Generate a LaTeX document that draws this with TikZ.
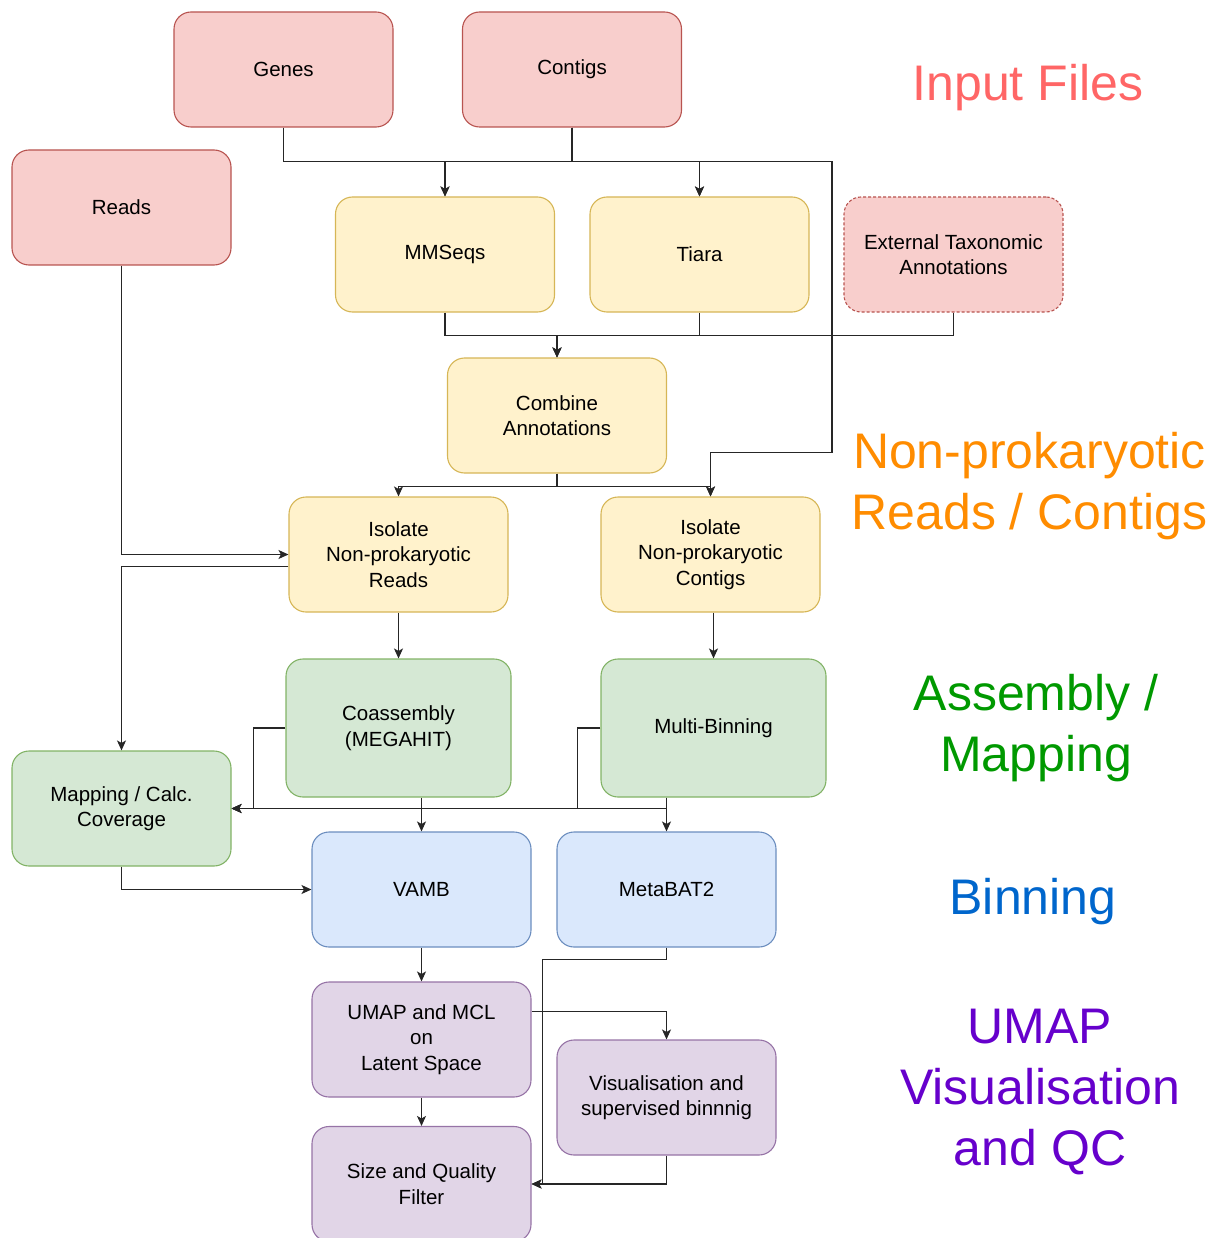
\documentclass[tikz,border=0pt]{standalone}
\usepackage{fontspec}
\setmainfont{Liberation Sans}
\usetikzlibrary{arrows.meta,calc}

\definecolor{redfill}{HTML}{F8CECC}\definecolor{redline}{HTML}{B85450}
\definecolor{yelfill}{HTML}{FFF2CC}\definecolor{yelline}{HTML}{D6B656}
\definecolor{grnfill}{HTML}{D5E8D4}\definecolor{grnline}{HTML}{82B366}
\definecolor{blufill}{HTML}{DAE8FC}\definecolor{bluline}{HTML}{6C8EBF}
\definecolor{purfill}{HTML}{E1D5E7}\definecolor{purline}{HTML}{9673A6}
\definecolor{tinput}{HTML}{FF6666}
\definecolor{tnonpro}{HTML}{FF8C00}
\definecolor{tassem}{HTML}{009900}
\definecolor{tbinning}{HTML}{0066CC}
\definecolor{tumap}{HTML}{6600CC}

\tikzset{
  box/.style={draw, rounded corners=17pt, line width=1.1pt, align=center,
    minimum width=219pt, minimum height=115pt, inner sep=0pt,
    font=\fontsize{20.5}{25.5}\selectfont},
  redbox/.style={box, fill=redfill, draw=redline},
  yelbox/.style={box, fill=yelfill, draw=yelline},
  grnbox/.style={box, fill=grnfill, draw=grnline},
  blubox/.style={box, fill=blufill, draw=bluline},
  purbox/.style={box, fill=purfill, draw=purline},
  wire/.style={line width=1.1pt, draw=black!85},
  arr/.style={wire, -{Stealth[length=10pt,width=9pt,inset=2.5pt]}},
  stage/.style={align=center, font=\fontsize{50}{61}\selectfont, inner sep=0pt}
}

\begin{document}
\begin{tikzpicture}[x=1pt, y=-1pt]
\useasboundingbox (0,0) rectangle (1212,1238);

% input files
\node[redbox] (genes)   at (283.5,69.5)  {Genes};
\node[redbox] (contigs) at (572,69.5)    {Contigs};
\node[redbox] (reads)   at (121.5,207.5) {Reads};
\node[redbox, dashed, dash pattern=on 3pt off 2pt] (external) at (953.5,254.5) {External Taxonomic\\Annotations};

% annotation and isolation steps
\node[yelbox] (mmseqs)  at (445,254.5)   {MMSeqs};
\node[yelbox] (tiara)   at (699.5,254.5) {Tiara};
\node[yelbox] (combine) at (557,415.5)   {Combine\\Annotations};
\node[yelbox] (isoR)    at (398.5,554.5) {Isolate\\Non-prokaryotic\\Reads};
\node[yelbox] (isoC)    at (710.5,554.5) {Isolate\\Non-prokaryotic\\Contigs};

% assembly and mapping
\node[grnbox, minimum width=225pt, minimum height=138pt] (coasm)    at (398.5,728) {Coassembly\\(MEGAHIT)};
\node[grnbox, minimum width=225pt, minimum height=138pt] (multibin) at (713.5,728) {Multi-Binning};
\node[grnbox] (mapping) at (121.5,808.5) {Mapping / Calc.\\Coverage};

% binning
\node[blubox] (vamb)    at (421.5,889.5) {VAMB};
\node[blubox] (metabat) at (666.5,889.5) {MetaBAT2};

% umap, visualisation and QC
\node[purbox] (umap)   at (421.5,1039.5) {UMAP and MCL\\on\\Latent Space};
\node[purbox] (visual) at (666.5,1097.5) {Visualisation and\\supervised binnnig};
\node[purbox] (size)   at (421.5,1184)   {Size and Quality\\Filter};

% stage labels
\node[stage, text=tinput]   (lInput) at (1028,88)   {Input Files};
\node[stage, text=tnonpro]  (lNon)   at (1029.5,486.5) {Non-prokaryotic\\Reads / Contigs};
\node[stage, text=tassem]   (lAsm)   at (1036,728.5)  {Assembly /\\Mapping};
\node[stage, text=tbinning] (lBin)   at (1033,902)  {Binning};
\node[stage, text=tumap]    (lUmap)  at (1040,1092.5) {UMAP\\Visualisation\\and QC};

% connectors
\draw[arr] (genes.south) -- ++(0,34) -| (mmseqs.north);
\draw[arr] (genes.south) -- ++(0,34) -| (tiara.north);
\draw[arr] (contigs.south) -- ++(0,34) -| (mmseqs.north);
\draw[arr] (contigs.south) -- ++(0,34) -| (tiara.north);
\draw[arr] (contigs.south) -- ++(0,34) -- ++(260,0) -- ++(0,291) -| (isoC.north);

\draw[arr] (mmseqs.south) -- ++(0,23) -| (combine.north);
\draw[arr] (tiara.south) -- ++(0,23) -| (combine.north);
\draw[arr] (external.south) -- ++(0,23) -| (combine.north);

\draw[arr] (combine.south) -- ++(0,13) -| (isoR.north);
\draw[arr] (combine.south) -- ++(0,13) -| (isoC.north);

\draw[arr] (reads.south) |- (isoR.west);
\draw[arr] ($(isoR.west)+(0,12)$) -| (mapping.north);
\draw[arr] (isoR.south) -- (coasm.north);
\draw[arr] (multibin.north |- isoC.south) -- (multibin.north);

\draw[arr] (coasm.west) -- ++(-32,0) |- (mapping.east);
\draw[arr] (multibin.west) -- ++(-23,0) |- (mapping.east);
\draw[arr] (metabat.north |- multibin.south) |- (mapping.east);
\draw[arr] (vamb.north |- coasm.south) -- (vamb.north);
\draw[arr] (metabat.north |- multibin.south) -- (metabat.north);

\draw[arr] (mapping.south) |- (vamb.west);
\draw[arr] (vamb.south) -- (umap.north);
\draw[arr] (metabat.south) -- ++(0,12) -- ++(-124,0) |- (size.east);
\draw[arr] ($(umap.east)+(0,-28)$) -| (visual.north);
\draw[arr] (visual.south) |- (size.east);
\draw[arr] (umap.south) -- (size.north);
\end{tikzpicture}
\end{document}
